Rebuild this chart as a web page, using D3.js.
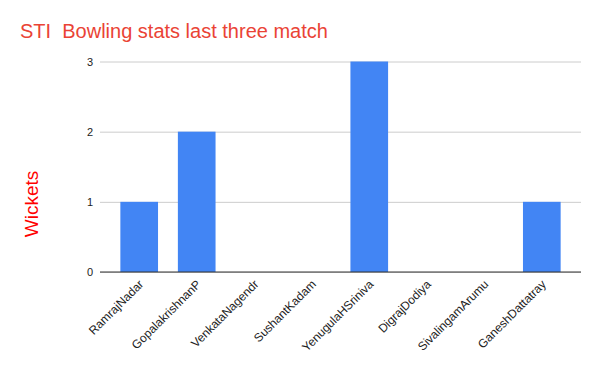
<!DOCTYPE html>
<html><head><meta charset="utf-8">
<script src="https://cdn.jsdelivr.net/npm/d3@7"></script>
<style>body{margin:0;background:#fff;font-family:"Liberation Sans",Arial,sans-serif}</style>
</head><body>
<svg id="c" width="600" height="371"></svg>
<script>
const categories = ["RamrajNadar","GopalakrishnanP","VenkataNagendr","SushantKadam","YenugulaHSriniva","DigrajDodiya","SivalingamArumu","GaneshDattatray"];
const wickets = [1,2,0,0,3,0,0,1];
const yTicks = [0,1,2,3];
const title = "STI  Bowling stats last three match";
const yTitle = "Wickets";

const svg = d3.select("#c");
svg.append("rect").attr("width",600).attr("height",371).attr("fill","#fff");
const x = d3.scaleBand().domain(categories).range([100,581]).paddingInner(0.345).paddingOuter(0.354);
const y = d3.scaleLinear().domain([0,3]).range([272,61.5]);

const yAxis = svg.append("g").attr("transform","translate(100,0)")
  .call(d3.axisLeft(y).tickValues(yTicks).tickSize(-481).tickPadding(7).tickFormat(d3.format("d")));
yAxis.select(".domain").remove();
yAxis.selectAll(".tick line").attr("stroke","#cccccc");
yAxis.selectAll(".tick text").attr("fill","#222").style("font-size","11px").style("font-family","Liberation Sans, Arial, sans-serif");

svg.append("g").selectAll("rect").data(wickets).join("rect")
  .attr("x",(d,i)=>x(categories[i])).attr("width",x.bandwidth())
  .attr("y",d=>y(d)).attr("height",d=>y(0)-y(d)).attr("fill","#4285f4");

svg.append("line").attr("x1",100).attr("x2",581).attr("y1",y(0)).attr("y2",y(0)).attr("stroke","#333").attr("stroke-width",1);

svg.append("g").selectAll("text").data(categories).join("text")
  .attr("transform",d=>`translate(${x(d)+x.bandwidth()/2+5},${285}) rotate(-45)`)
  .attr("text-anchor","end").attr("fill","#222").style("font-size","12px")
  .text(d=>d);

svg.append("text").attr("x",20).attr("y",38).attr("fill","#ea4335").style("font-size","20px").style("white-space","pre").text(title);
svg.append("text").attr("transform","translate(38,204) rotate(-90)").attr("text-anchor","middle").attr("fill","#ff0000").style("font-size","19px").text(yTitle);
</script>
</body></html>
